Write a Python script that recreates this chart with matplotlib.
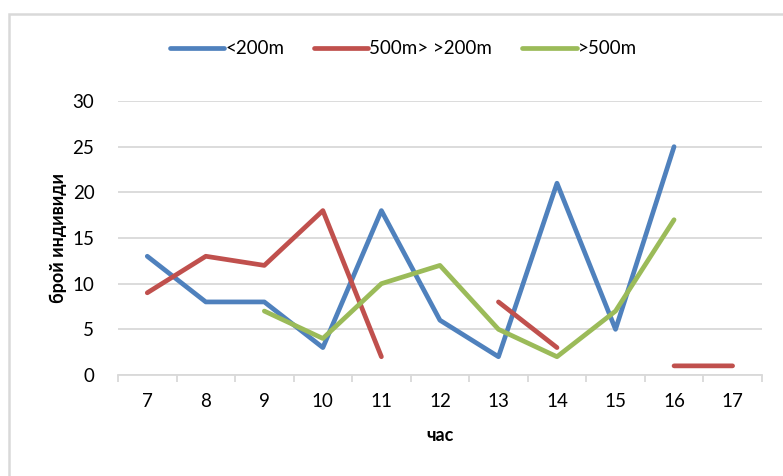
import numpy as np
import matplotlib.pyplot as plt
from matplotlib.patches import Rectangle

plt.rcParams['font.family'] = ['Lato', 'DejaVu Sans']

hours = ['7', '8', '9', '10', '11', '12', '13', '14', '15', '16', '17']
near = [13, 8, 8, 3, 18, 6, 2, 21, 5, 25, np.nan]
middle = [9, 13, 12, 18, 2, np.nan, 8, 3, np.nan, 1, 1]
far = [np.nan, np.nan, 7, 4, 10, 12, 5, 2, 7, 17, np.nan]

series = [
    ('<200m', near, '#4F81BD'),
    ('500m> >200m', middle, '#C0504D'),
    ('>500m', far, '#9BBB59'),
]

fig = plt.figure(figsize=(7.83, 4.76), dpi=100)
ax = fig.add_axes([0.1507, 0.2122, 0.8223, 0.5756])

# outer chart frame (runs off the right/bottom edges)
fig.patches.append(Rectangle((9 / 783, -0.05), 1.2, 1.05 - 14 / 476,
                             transform=fig.transFigure, fill=False,
                             edgecolor='#D9D9D9', lw=1.8))

x = np.arange(len(hours))
for name, vals, col in series:
    ax.plot(x, vals, color=col, lw=3.4, solid_capstyle='round',
            solid_joinstyle='round', label=name)

ax.set_xlim(-0.5, len(hours) - 0.5)
ax.set_ylim(0, 30)
ax.set_yticks(range(0, 31, 5))
ax.grid(axis='y', color='#D9D9D9', lw=1.3)
ax.set_axisbelow(True)

# category boundaries get the tick marks, labels sit in between
ax.set_xticks(np.arange(-0.5, len(hours)), labels=[])
ax.set_xticks(x, labels=hours, minor=True)
ax.tick_params(axis='x', which='major', length=5, color='#D9D9D9', width=1.3)
ax.tick_params(axis='x', which='minor', length=0, pad=13, labelsize=13.5)
ax.tick_params(axis='y', length=0, pad=17, labelsize=13.5)

for side in ['top', 'right', 'left']:
    ax.spines[side].set_visible(False)
ax.spines['bottom'].set_color('#D9D9D9')
ax.spines['bottom'].set_linewidth(1.3)

ax.set_xlabel('час', fontsize=13, fontweight='bold', labelpad=12)
ax.set_ylabel('брой индивиди', fontsize=13, fontweight='bold', labelpad=4)

fig.legend(loc='center', bbox_to_anchor=(0.515, 1 - 49 / 476), ncol=3,
           frameon=False, fontsize=13.5, handlelength=2.9, handletextpad=0.05,
           columnspacing=1.6)

fig.savefig('out.png', dpi=100)
